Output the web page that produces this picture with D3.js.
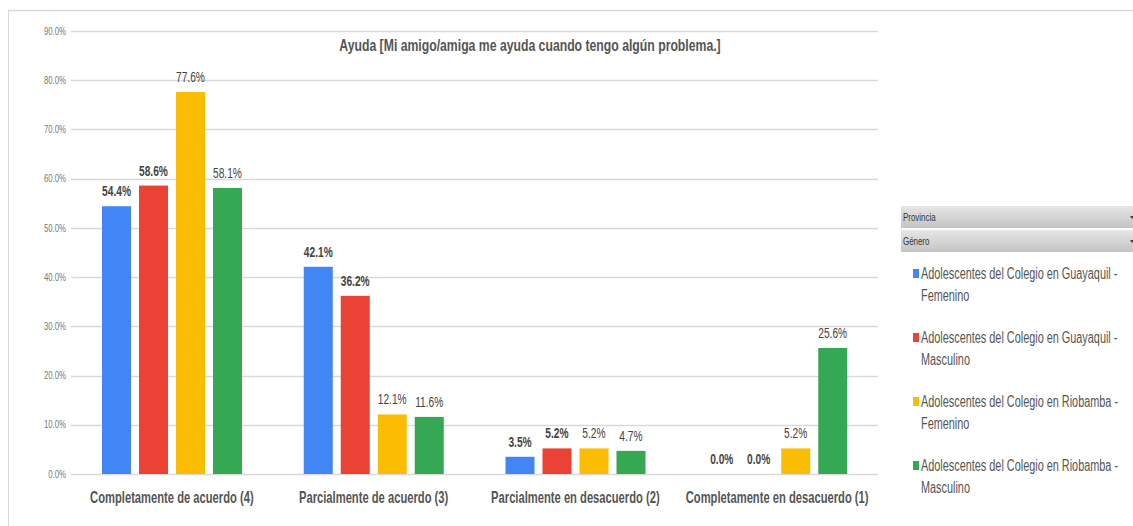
<!DOCTYPE html>
<html lang="es">
<head>
<meta charset="UTF-8">
<script src="https://cdn.jsdelivr.net/npm/d3@7"></script>
<title>Ayuda</title>
<style>
  body { margin: 0; background: #fff; }
  svg { display: block; font-family: "Liberation Sans", Arial, sans-serif; }
</style>
</head>
<body>
<div id="chart"></div>
<script>
// data
const categories = ['Completamente de acuerdo (4)', 'Parcialmente de acuerdo (3)', 'Parcialmente en desacuerdo (2)', 'Completamente en desacuerdo (1)'];
const seriesNames = [
  ['Adolescentes del Colegio en Guayaquil -', 'Femenino'],
  ['Adolescentes del Colegio en Guayaquil -', 'Masculino'],
  ['Adolescentes del Colegio en Riobamba -', 'Femenino'],
  ['Adolescentes del Colegio en Riobamba -', 'Masculino']
];
const guayaquilFem = [54.4, 42.1, 3.5, 0.0];
const guayaquilMasc = [58.6, 36.2, 5.2, 0.0];
const riobambaFem = [77.6, 12.1, 5.2, 5.2];
const riobambaMasc = [58.1, 11.6, 4.7, 25.6];
const yTicks = [0, 10, 20, 30, 40, 50, 60, 70, 80, 90];
const filterHeaders = ['Provincia', 'Género'];
const colors = ['#4285f4', '#ea4335', '#fbbc04', '#34a853'];
const boldLabels = [true, true, false, false];

const series = [guayaquilFem, guayaquilMasc, riobambaFem, riobambaMasc];

const width = 1133, height = 526;
const svg = d3.select('#chart').append('svg')
  .attr('width', width)
  .attr('height', height);

// the original screenshot is squeezed horizontally, so text gets a narrow look
function squeeze(sel, k) {
  sel.each(function () {
    const t = d3.select(this);
    const x = +t.attr('x') || 0;
    t.attr('transform', `translate(${x * (1 - k)},0) scale(${k},1)`);
  });
}

// outer frame lines
svg.append('line').attr('x1', 8).attr('x2', width).attr('y1', 10.5).attr('y2', 10.5)
  .attr('stroke', '#d9d9d9').attr('stroke-width', 1.5);
svg.append('line').attr('x1', 8.5).attr('x2', 8.5).attr('y1', 10).attr('y2', height)
  .attr('stroke', '#d9d9d9').attr('stroke-width', 1);

// scales
const x0 = d3.scaleBand().domain(categories).range([71, 878]);
const x1 = d3.scaleBand().domain(d3.range(4)).range([31, 31 + 4 * 37 - 8]).paddingInner(8 / 37);
const y = d3.scaleLinear().domain([0, 90]).range([474, 31]);

// gridlines
svg.append('g').selectAll('line').data(yTicks).join('line')
  .attr('x1', 71).attr('x2', 878)
  .attr('y1', d => Math.round(y(d)) + 0.5).attr('y2', d => Math.round(y(d)) + 0.5)
  .attr('stroke', '#d9d9d9').attr('stroke-width', 1.3);

// y axis labels
const yAxis = d3.axisLeft(y).tickValues(yTicks).tickFormat(d => d.toFixed(1) + '%').tickSize(0).tickPadding(5);
svg.append('g').attr('transform', 'translate(71,0)').call(yAxis)
  .call(g => g.select('.domain').remove())
  .call(g => g.selectAll('text').attr('fill', '#777').attr('font-size', 10)
    .attr('font-family', 'inherit').call(squeeze, 0.78));

// title
svg.append('text').attr('x', 530).attr('y', 51).attr('text-anchor', 'middle')
  .attr('font-size', 17).attr('font-weight', 'bold').attr('fill', '#555')
  .text('Ayuda [Mi amigo/amiga me ayuda cuando tengo algún problema.]')
  .call(squeeze, 0.72);

// bars
const groups = svg.append('g').selectAll('g').data(categories).join('g')
  .attr('transform', d => `translate(${x0(d)},0)`);

const cells = (c, i) => series.map((s, k) => ({ k, v: s[i] }));

groups.selectAll('rect').data(cells).join('rect')
  .attr('x', d => x1(d.k))
  .attr('y', d => y(d.v))
  .attr('width', x1.bandwidth())
  .attr('height', d => y(0) - y(d.v))
  .attr('fill', d => colors[d.k]);

groups.selectAll('text.val').data(cells).join('text')
  .attr('class', 'val')
  .attr('x', d => x1(d.k) + x1.bandwidth() / 2)
  .attr('y', d => y(d.v) - 10)
  .attr('text-anchor', 'middle')
  .attr('font-size', 15)
  .attr('font-weight', d => boldLabels[d.k] ? 'bold' : 'normal')
  .attr('fill', '#444')
  .text(d => d.v.toFixed(1) + '%')
  .call(squeeze, 0.68);

// x axis labels
svg.append('g').selectAll('text').data(categories).join('text')
  .attr('x', d => x0(d) + x0.bandwidth() / 2)
  .attr('y', 503)
  .attr('text-anchor', 'middle')
  .attr('font-size', 16).attr('font-weight', 'bold').attr('fill', '#555')
  .text(d => d)
  .call(squeeze, 0.7);

// filter headers
const grad = svg.append('defs').append('linearGradient').attr('id', 'hdr')
  .attr('x1', 0).attr('x2', 0).attr('y1', 0).attr('y2', 1);
grad.append('stop').attr('offset', '0%').attr('stop-color', '#e6e6e6');
grad.append('stop').attr('offset', '100%').attr('stop-color', '#c4c4c4');
const hdr = svg.append('g').selectAll('g').data(filterHeaders).join('g')
  .attr('transform', (d, i) => `translate(901,${206 + i * 24})`);
hdr.append('rect').attr('width', 232).attr('height', 22).attr('fill', 'url(#hdr)');
hdr.append('text').attr('x', 2).attr('y', 15).attr('font-size', 11).attr('fill', '#333')
  .text(d => d).call(squeeze, 0.72);
hdr.append('path').attr('d', 'M229,10 l4,0 l-2,3 z').attr('fill', '#444');

// legend
const legend = svg.append('g').selectAll('g').data(seriesNames).join('g')
  .attr('transform', (d, i) => `translate(913,${279 + i * 64})`);
legend.append('rect').attr('x', 0).attr('y', -10).attr('width', 6).attr('height', 9)
  .attr('fill', (d, i) => colors[i]);
legend.append('text').attr('x', 8).attr('y', 0).attr('font-size', 16).attr('fill', '#555')
  .call(t => t.selectAll('tspan').data(d => d).join('tspan')
    .attr('x', 8).attr('dy', (d, i) => i === 0 ? 0 : 22).text(d => d))
  .call(squeeze, 0.68);
</script>
</body>
</html>
